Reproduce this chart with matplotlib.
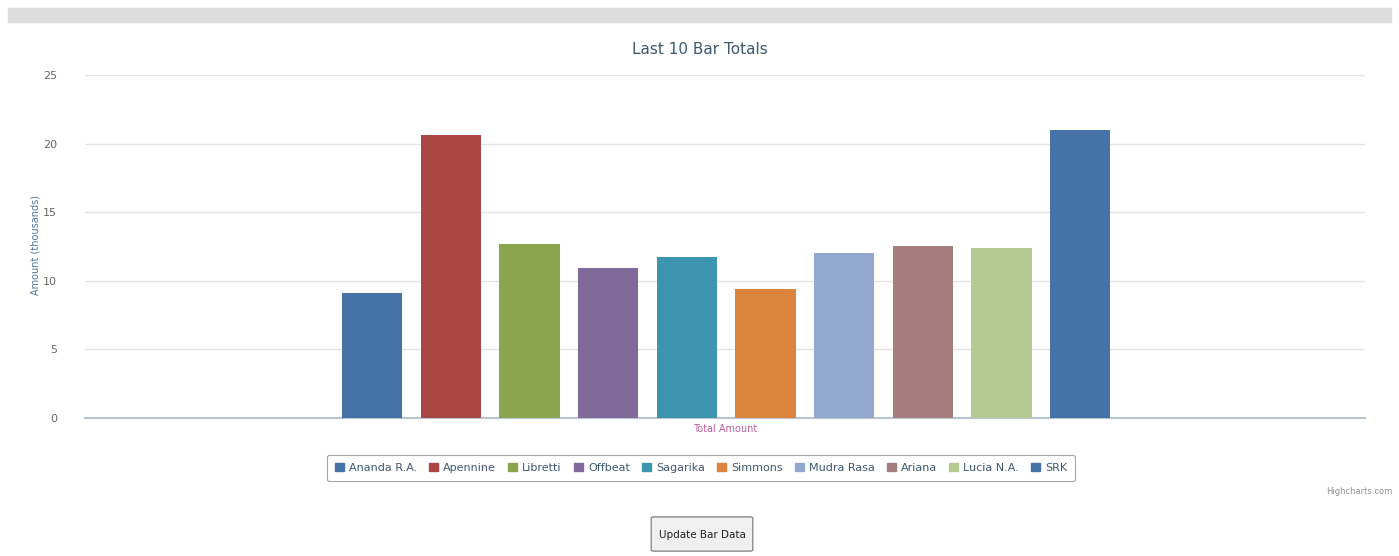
import matplotlib.pyplot as plt
from matplotlib.patches import Rectangle, FancyBboxPatch

# data
names = ['Ananda R.A.', 'Apennine', 'Libretti', 'Offbeat', 'Sagarika',
         'Simmons', 'Mudra Rasa', 'Ariana', 'Lucia N.A.', 'SRK']
values = [9.1, 20.6, 12.7, 10.9, 11.7, 9.4, 12.0, 12.5, 12.4, 21.0]
colors = ['#4572A7', '#AA4643', '#89A54E', '#80699B', '#3D96AE',
          '#DB843D', '#92A8CD', '#A47D7C', '#B5CA92', '#4572A7']
yticks = [0, 5, 10, 15, 20, 25]


def plot():
    fig = plt.figure(figsize=(13.99, 5.56), dpi=100)
    W, H = 1399, 556

    # grey strip at the top of the page
    fig.patches.append(Rectangle((8 / W, 1 - 22 / H), 1383 / W, 14 / H,
                                 transform=fig.transFigure, color='#dcdcdc', zorder=0))

    ax = fig.add_axes([85 / W, 1 - 418 / H, 1280 / W, 343 / H])
    x = list(range(len(values)))
    ax.bar(x, values, width=0.77, color=colors, zorder=3)
    ax.set_xlim(-3.65, 12.62)
    ax.set_ylim(0, 25)
    ax.set_yticks(yticks)
    ax.set_yticklabels([str(t) for t in yticks], fontsize=8, color='#666666')
    ax.set_xticks([])
    ax.grid(axis='y', color='#e4e4e4', linewidth=1, zorder=0)
    for s in ['top', 'right', 'left']:
        ax.spines[s].set_visible(False)
    ax.spines['bottom'].set_color('#b8c4d0')
    ax.spines['bottom'].set_linewidth(1.5)
    ax.tick_params(axis='y', length=0, pad=20)
    ax.tick_params(axis='x', length=0)

    fig.text(700 / W, 1 - 50 / H, 'Last 10 Bar Totals', fontsize=11, color='#3e576f',
             ha='center', va='center')
    fig.text(35 / W, 1 - 245 / H, 'Amount (thousands)', fontsize=7, color='#4d759e',
             rotation=90, ha='center', va='center')
    ax.set_xlabel('Total Amount', fontsize=7, color='#c060a0', labelpad=4)

    handles = [Rectangle((0, 0), 1, 1, color=c) for c in colors]
    leg = fig.legend(handles, names, loc='center', bbox_to_anchor=(701 / W, 1 - 468 / H),
                     ncol=len(names), fontsize=8, frameon=True, handlelength=0.8,
                     handleheight=0.8, columnspacing=1.1, handletextpad=0.45,
                     borderpad=0.7, fancybox=True)
    leg.get_frame().set_edgecolor('#909090')
    leg.get_frame().set_linewidth(0.8)
    for t in leg.get_texts():
        t.set_color('#3e576f')

    # credits text and button
    fig.text(1392 / W, 1 - 492 / H, 'Highcharts.com', fontsize=6, color='#909090',
             ha='right', va='center')
    fig.patches.append(FancyBboxPatch((654 / W, 1 - 550 / H), 96 / W, 32 / H,
                                      boxstyle='round,pad=0.002', transform=fig.transFigure,
                                      facecolor='#f0f0f0', edgecolor='#8a8a8a', linewidth=1))
    fig.text(702 / W, 1 - 535 / H, 'Update Bar Data', fontsize=7.5, color='#222222',
             ha='center', va='center')

    fig.savefig('out.png', dpi=100)


def main():
    plot()


if __name__ == '__main__':
    main()
